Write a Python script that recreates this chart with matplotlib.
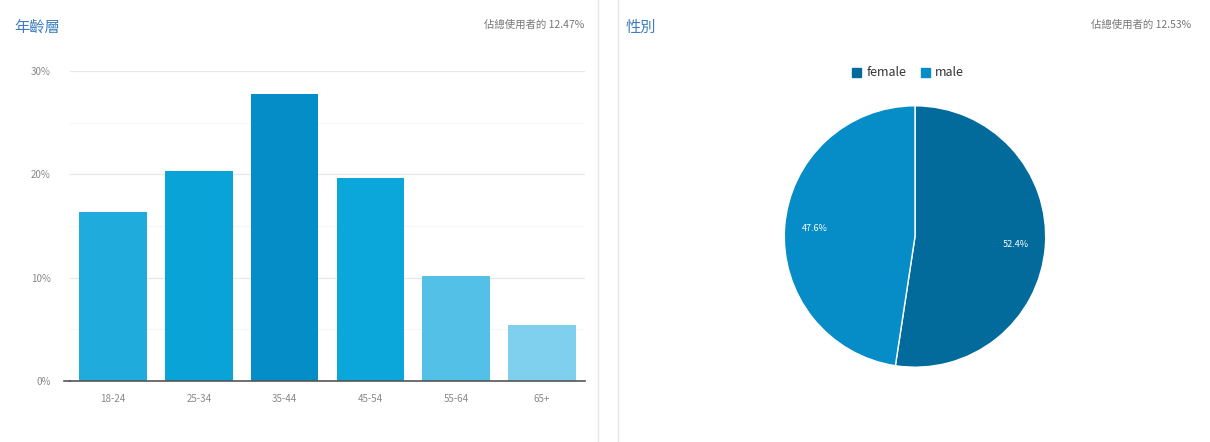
import matplotlib
matplotlib.use("Agg")
import matplotlib.pyplot as plt
from matplotlib.patches import Rectangle
from matplotlib.lines import Line2D

plt.rcParams['font.family'] = ['Noto Sans CJK TC', 'DejaVu Sans']

# Data
age_groups = ["18-24", "25-34", "35-44", "45-54", "55-64", "65+"]
age_values = [16.4, 20.3, 27.8, 19.6, 10.2, 5.4]
age_colors = ["#20abdd", "#0aa3d7", "#058dc7", "#0ba7db", "#52c0e7", "#7fd0ef"]
y_ticks = [0, 10, 20, 30]
y_tick_labels = ["0%", "10%", "20%", "30%"]

gender_labels = ["female", "male"]
gender_values = [52.4, 47.6]
gender_colors = ["#026b9c", "#068dc7"]

age_title = "年齡層"
age_note = "佔總使用者的 12.47%"
gender_title = "性別"
gender_note = "佔總使用者的 12.53%"

W, H = 1210, 442
fig = plt.figure(figsize=(W / 100, H / 100), dpi=100)
fig.patch.set_facecolor("white")

def fx(x):
    return x / W

def fy(y):
    return 1 - y / H

# Panel divider lines
for xp in (597.5, 618):
    fig.add_artist(Line2D([fx(xp), fx(xp)], [0, 1], color="#e6e6e6", lw=1.0))

# Titles
title_color = "#3b7dc0"
note_color = "#777777"
fig.text(fx(14), fy(27), age_title, color=title_color, fontsize=11, va="center", ha="left", fontweight="medium")
fig.text(fx(584), fy(25), age_note, color=note_color, fontsize=7.5, va="center", ha="right")
fig.text(fx(626), fy(27), gender_title, color=title_color, fontsize=11, va="center", ha="left", fontweight="medium")
fig.text(fx(1191), fy(25), gender_note, color=note_color, fontsize=7.5, va="center", ha="right")

# Bar chart
ax = fig.add_axes([fx(70), fy(381), fx(585) - fx(70), fy(71) - fy(381)])
x = range(len(age_groups))
ax.bar(x, age_values, width=0.79, color=age_colors, zorder=3)
ax.set_xlim(-0.5, len(age_groups) - 0.5)
ax.set_ylim(0, 30)
ax.set_yticks(y_ticks)
ax.set_yticklabels(y_tick_labels)
ax.set_xticks(list(x))
ax.set_xticklabels(age_groups)
for s in ("top", "right", "left"):
    ax.spines[s].set_visible(False)
ax.spines["bottom"].set_color("#555555")
ax.spines["bottom"].set_linewidth(1.2)
ax.spines["bottom"].set_zorder(4)
ax.tick_params(axis="x", length=0, pad=9, labelsize=7, labelcolor="#888888")
ax.tick_params(axis="y", length=0, pad=14, labelsize=7, labelcolor="#888888")
for v in (10, 20, 30):
    ax.axhline(v, color="#e8e8e8", lw=0.9, zorder=1)
for v in (5, 15, 25):
    ax.axhline(v, color="#f6f6f6", lw=0.8, zorder=1)
ax.add_artist(Line2D([-0.012, 0.0], [0, 0], transform=ax.transAxes, color="#555555", lw=1.2, clip_on=False))

# Pie chart
cx, cy, r = 915, 236.5, 132
pax = fig.add_axes([fx(cx - r), fy(cy + r), fx(2 * r), fy(cy - r) - fy(cy + r)])
wedges, texts = pax.pie(
    gender_values,
    colors=gender_colors,
    startangle=90,
    counterclock=False,
    labels=[f"{v:.1f}%" for v in gender_values],
    labeldistance=0.77,
    wedgeprops=dict(edgecolor="white", linewidth=1.0),
    textprops=dict(color="white", fontsize=6.5, ha="center", va="center"),
)
pax.set_xlim(-1.01, 1.01)
pax.set_ylim(-1.01, 1.01)

# Legend
handles = [Rectangle((0, 0), 1, 1, color=c) for c in gender_colors]
fig.legend(handles, gender_labels, loc="center", bbox_to_anchor=(fx(908), fy(73)),
           ncol=2, frameon=False, fontsize=9, handlelength=0.7, handleheight=0.7,
           handletextpad=0.4, columnspacing=1.2, labelcolor="#333333")

fig.savefig("out.png", dpi=100, facecolor="white")
